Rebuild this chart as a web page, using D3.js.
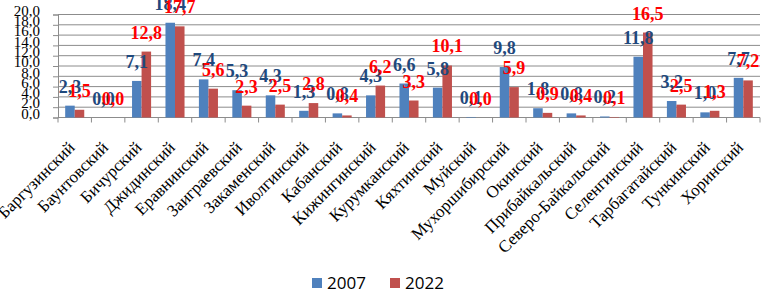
<!DOCTYPE html>
<html lang="ru">
    <head>
        <meta charset="utf-8">
        <title>Районы 2007 / 2022</title>
        <script src="https://d3js.org/d3.v7.min.js"></script>
        <style type="text/css">
        body {
            margin: 0;
            background-color: white;
        }
        </style>
    </head>
    <body>
        <svg width="771" height="292"></svg>
        <script type="text/javascript">

            // data
            const districts = ["Баргузинский", "Баунтовский", "Бичурский", "Джидинский", "Еравнинский",
                "Заиграевский", "Закаменский", "Иволгинский", "Кабанский", "Кижингинский", "Курумканский",
                "Кяхтинский", "Муйский", "Мухоршибирский", "Окинский", "Прибайкальский", "Северо-Байкальский",
                "Селенгинский", "Тарбагатайский", "Тункинский", "Хоринский"];
            const v2007 = [2.3, 0.0, 7.1, 18.4, 7.4, 5.3, 4.3, 1.3, 0.8, 4.3, 6.6, 5.8, 0.1, 9.8, 1.8, 0.8, 0.2, 11.8, 3.2, 1.0, 7.7];
            const v2022 = [1.5, 0.0, 12.8, 17.7, 5.6, 2.3, 2.5, 2.8, 0.4, 6.2, 3.3, 10.1, 0.0, 5.9, 0.9, 0.4, 0.1, 16.5, 2.5, 1.3, 7.2];
            const years = ["2007", "2022"];
            const yTicks = [0, 2, 4, 6, 8, 10, 12, 14, 16, 18, 20];

            const svg = d3.select("svg");
            const mLeft = 58, mRight = 760, mTop = 14.5, mBottom = 117.5;
            const barColor = d3.scaleOrdinal(years, ["#4f81bd", "#c0504d"]);
            const labelColor = d3.scaleOrdinal(years, ["#1f497d", "#ff0000"]);
            const fmt = v => v.toFixed(1).replace(".", ",");

            const rows = districts.map((d, i) => ({name: d, values: [
                {year: "2007", v: v2007[i]}, {year: "2022", v: v2022[i]}]}));

            const x = d3.scaleBand().domain(districts).range([mLeft, mRight])
                        .paddingInner(0.43).paddingOuter(0.215);
            const xs = d3.scaleBand().domain(years).range([0, x.bandwidth()]);
            const y = d3.scaleLinear().domain([0, 20]).range([mBottom, mTop]);

            // gridlines
            svg.append("g").selectAll("line")
               .data(yTicks)
               .enter()
               .append("line")
               .attr("x1", mLeft).attr("x2", mRight)
               .attr("y1", d => y(d)).attr("y2", d => y(d))
               .style("stroke", "#8c8c8c")
               .style("stroke-width", 1);

            // y axis
            const yAxis = svg.append("g")
                .attr("transform", `translate(${mLeft},0)`)
                .call(d3.axisLeft(y).tickValues(yTicks).tickFormat(fmt).tickSize(5).tickPadding(13));
            yAxis.select(".domain").style("stroke", "#8c8c8c");
            yAxis.selectAll(".tick line").style("stroke", "#8c8c8c");
            yAxis.selectAll("text")
                 .style("font-family", "'Liberation Serif', serif")
                 .style("font-size", "15px")
                 .style("fill", "#000")
                 .attr("dy", "0.05em");

            // x axis: ticks between categories
            const step = x.step();
            const bounds = d3.range(districts.length + 1).map(i => x(districts[0]) - x.paddingOuter() * step + i * step);
            svg.append("line")
               .attr("x1", mLeft).attr("x2", mRight)
               .attr("y1", y(0)).attr("y2", y(0))
               .style("stroke", "#8c8c8c");
            svg.append("g").selectAll("line")
               .data(bounds)
               .enter()
               .append("line")
               .attr("x1", d => d).attr("x2", d => d)
               .attr("y1", y(0)).attr("y2", y(0) + 5)
               .style("stroke", "#8c8c8c");

            // bars
            const groups = svg.append("g").selectAll("g")
                              .data(rows)
                              .enter()
                              .append("g")
                              .attr("transform", d => `translate(${x(d.name)},0)`);

            groups.selectAll("rect")
                  .data(d => d.values)
                  .enter()
                  .append("rect")
                  .attr("x", d => xs(d.year))
                  .attr("width", xs.bandwidth())
                  .attr("y", d => y(d.v))
                  .attr("height", d => y(0) - y(d.v))
                  .style("fill", d => barColor(d.year));

            // value labels
            groups.selectAll("text")
                  .data(d => d.values)
                  .enter()
                  .append("text")
                  .attr("x", d => xs(d.year) + xs.bandwidth() / 2)
                  .attr("y", d => y(d.v) - 13)
                  .attr("text-anchor", "middle")
                  .style("font-family", "'Liberation Serif', serif")
                  .style("font-weight", "bold")
                  .style("font-size", "18px")
                  .style("fill", d => labelColor(d.year))
                  .text(d => fmt(d.v));

            // category labels
            svg.append("g").selectAll("text")
               .data(districts)
               .enter()
               .append("text")
               .attr("transform", d => `translate(${x(d) + x.bandwidth() / 2 + 1},${y(0) + 31}) rotate(-45)`)
               .attr("text-anchor", "end")
               .style("font-family", "'Liberation Serif', serif")
               .style("font-size", "17px")
               .style("fill", "#000")
               .text(d => d);

            // legend
            const legend = svg.append("g").attr("transform", "translate(312,278)");
            const items = legend.selectAll("g")
                                .data(years)
                                .enter()
                                .append("g")
                                .attr("transform", (d, i) => `translate(${i * 78},0)`);
            items.append("rect")
                 .attr("width", 10).attr("height", 10)
                 .style("fill", d => barColor(d));
            items.append("text")
                 .attr("x", 15).attr("y", 11)
                 .style("font-family", "'Open Sans', sans-serif")
                 .style("font-size", "17px")
                 .style("fill", "#000")
                 .text(d => d);

        </script>
    </body>
</html>
